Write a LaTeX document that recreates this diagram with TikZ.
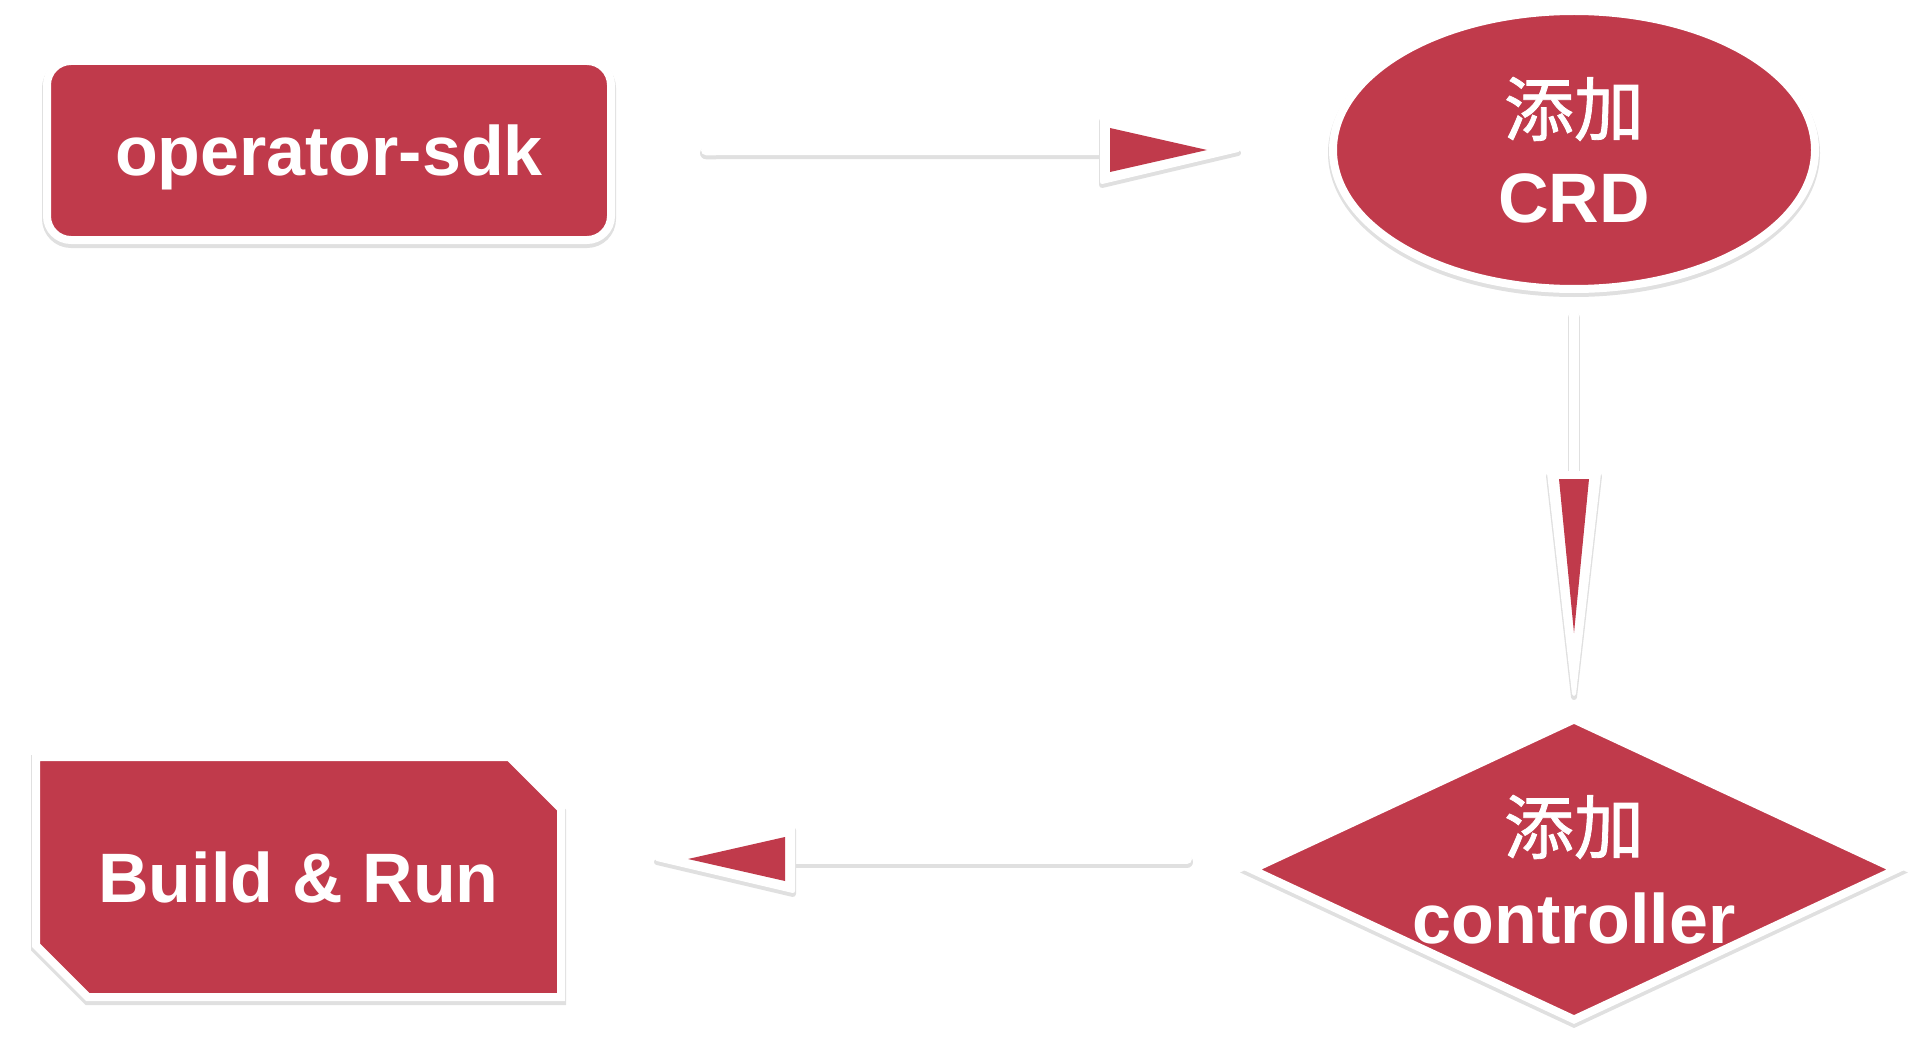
\documentclass[tikz,border=0pt]{standalone}
\usepackage{fontspec}
\setmainfont{Liberation Sans}
\newfontfamily\cjk[BoldFont={Noto Sans CJK SC}, BoldFeatures={FakeBold=1.2}]{Noto Sans CJK SC}
\usetikzlibrary{shapes.geometric,shapes.misc,shadows}
\definecolor{mred}{RGB}{192,58,75}
\colorlet{mshade}{black!12}
\tikzset{
  box/.style={fill=mred, draw=white, line width=4pt, text=white, inner sep=0pt, outer sep=0pt,
    font=\bfseries\fontsize{35}{43.5}\selectfont, align=center,
    drop shadow={fill=mshade, draw=mshade, line width=5pt, opacity=1, shadow xshift=0pt, shadow yshift=-1.5pt}},
  lbl/.style={text=white, inner sep=0pt, font=\bfseries\fontsize{35}{45}\selectfont, align=center},
  flow/.style={draw=white, line width=5pt, line cap=round,
    preaction={draw=mshade, line width=6pt, line cap=round, transform canvas={yshift=-1.5pt}}},
  headw/.style={fill=white, draw=white, line width=2pt, line join=round,
    preaction={fill=mshade, draw=mshade, line width=3pt, line join=round, transform canvas={yshift=-1.5pt}}},
  headr/.style={fill=mred},
}
\begin{document}
\begin{tikzpicture}[x=0.5pt,y=-0.5pt]
\useasboundingbox (0,0) rectangle (1918,1038);

%Shape: Rounded Rect
\node[box, rounded corners=12pt, text depth=0pt, minimum width=282pt, minimum height=89.5pt] (sdk) at (329,150.5) {operator-sdk};
%Shape: Ellipse
\node[box, ellipse, minimum width=241pt, minimum height=139pt] (crd) at (1574,150) {{\cjk 添加}\\CRD};
%Shape: Diamond
\node[box, diamond, minimum width=322pt, minimum height=150pt,
  label={[lbl]center:{{\cjk 添加}\\controller}}] (ctrl) at (1574,869.5) {};
%Shape: Chamfered Rect
\node[box, chamfered rectangle, chamfered rectangle corners={north east,south west},
  chamfered rectangle xsep=13pt, chamfered rectangle ysep=13pt,
  minimum width=262.5pt, minimum height=120pt] (build) at (298.5,877) {Build \& Run};

%Straight Lines
\coordinate (t1) at ([xshift=-47.5pt]crd.west);
\draw[flow, shorten <=47.5pt] (sdk) -- ([xshift=-68pt]t1);
\path[headw] (t1) -- ++(-136,-32) -- ++(0,64) -- cycle;
\path[headr] ([xshift=-15.5pt]t1) -- ++(-97,-22) -- ++(0,44) -- cycle;

\coordinate (t2) at ([yshift=12.75pt]ctrl.north);
\draw[flow, shorten <=13pt] (crd) -- ([yshift=110pt]t2);
\path[headw] (t2) -- ++(-25,-221) -- ++(50,0) -- cycle;
\path[headr] ([yshift=30.5pt]t2) -- ++(-15,-154) -- ++(30,0) -- cycle;

\coordinate (ctrlin) at ([yshift=5.25pt]ctrl.west);
\coordinate (t3) at ([xshift=48pt]ctrlin -| build.east);
\draw[flow, shorten <=32.5pt] (ctrlin) -- ([xshift=68pt]t3);
\path[headw] (t3) -- ++(136,-32) -- ++(0,64) -- cycle;
\path[headr] ([xshift=15.5pt]t3) -- ++(97,-22) -- ++(0,44) -- cycle;

\end{tikzpicture}
\end{document}
